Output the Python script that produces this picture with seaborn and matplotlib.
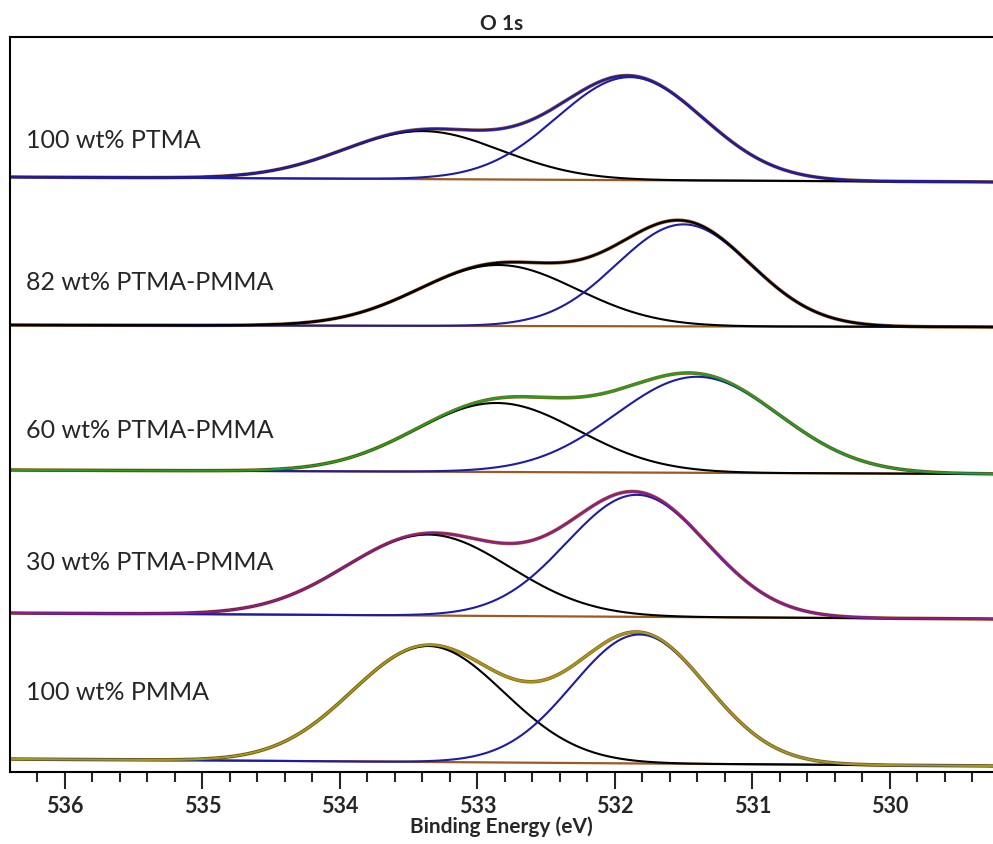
import numpy as np
import pandas as pd
import seaborn as sns
import matplotlib.pyplot as plt

# O 1s fits, top panel to bottom panel
samples = ['100 wt% PTMA', '82 wt% PTMA-PMMA', '60 wt% PTMA-PMMA',
           '30 wt% PTMA-PMMA', '100 wt% PMMA']
envelope_colors = ['#1c1ca6', '#000000', '#1fa01f', '#8e1a8e', '#9c9c1c']

# background line (stacked offset) at the left and right ends of the axis
base_left = [595, 447, 302, 159, 13]
base_right = [590, 445, 298, 153, 6]

# high binding energy component (black): centre (eV), height, FWHM (eV)
c1_center = [533.40, 532.85, 532.86, 533.36, 533.36]
c1_height = [48, 61, 69, 81, 116]
c1_fwhm = [1.35, 1.35, 1.40, 1.40, 1.30]

# low binding energy component (blue)
c2_center = [531.89, 531.50, 531.40, 531.84, 531.82]
c2_height = [103, 102, 96, 122, 129]
c2_fwhm = [1.25, 1.15, 1.40, 1.20, 1.15]

label_y = [632, 489, 342, 210, 79]

e_left, e_right = 536.4, 529.25
energy = np.linspace(e_right, e_left, 600)


def gauss(e, c, h, w):
    return h * np.exp(-4 * np.log(2) * (e - c) ** 2 / w ** 2)


sns.set_style('ticks')
plt.rcParams['font.family'] = ['Lato', 'DejaVu Sans']

fig = plt.figure(figsize=(9.93, 8.44), dpi=100)
ax = fig.add_axes([10 / 993, 1 - 772 / 844, 1 - 10 / 993, 735 / 844])

brown = '#9b5a22'
blue = '#1c1ca6'
for i, name in enumerate(samples):
    base = np.interp(energy, [e_right, e_left], [base_right[i], base_left[i]])
    p1 = gauss(energy, c1_center[i], c1_height[i], c1_fwhm[i])
    p2 = gauss(energy, c2_center[i], c2_height[i], c2_fwhm[i])
    df = pd.DataFrame({'energy': energy, 'base': base, 'p1': base + p1,
                       'p2': base + p2, 'env': base + p1 + p2})
    sns.lineplot(data=df, x='energy', y='env', color=brown, lw=2.6, ax=ax)
    sns.lineplot(data=df, x='energy', y='base', color=brown, lw=1.6, ax=ax)
    sns.lineplot(data=df, x='energy', y='p1', color='black', lw=1.5, ax=ax)
    sns.lineplot(data=df, x='energy', y='p2', color=blue, lw=1.5, ax=ax)
    sns.lineplot(data=df, x='energy', y='env', color=envelope_colors[i], lw=1.6, ax=ax)
    ax.text(536.28, label_y[i], name, fontsize=18, va='center', ha='left')

ax.set_xlim(e_left, e_right)
ax.set_ylim(0, 735)
ax.set_yticks([])
ax.set_ylabel('')
ax.set_xticks(range(530, 537))
ax.set_xticks(np.arange(529.4, 536.4, 0.2), minor=True)
ax.tick_params(axis='x', which='major', length=12, width=1.5, labelsize=15.5, pad=5)
ax.tick_params(axis='x', which='minor', length=7, width=1.5)
for lab in ax.get_xticklabels():
    lab.set_fontweight('bold')
ax.set_xlabel('Binding Energy (eV)', fontsize=15, fontweight='bold', labelpad=0)
ax.set_title('O 1s', fontsize=15, fontweight='bold', pad=5)
ax.spines['right'].set_visible(False)
for s in ['left', 'top', 'bottom']:
    ax.spines[s].set_linewidth(1.5)
    ax.spines[s].set_color('black')

fig.savefig('out.png', dpi=100)
